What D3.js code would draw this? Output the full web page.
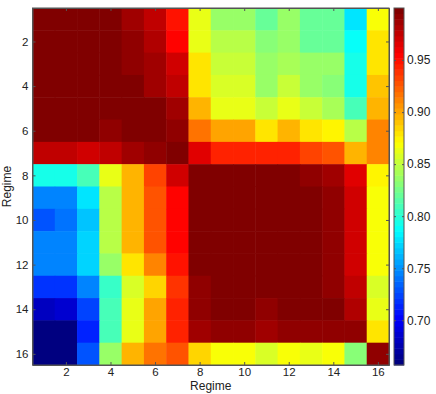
<!DOCTYPE html>
<html>
<head>
<meta charset="utf-8">
<script src="https://cdn.jsdelivr.net/npm/d3@7"></script>
<style>
  body { margin: 0; background: #fff; }
  svg text { font-family: "Liberation Sans", Arial, sans-serif; fill: #222; }
  .axis path, .axis line { stroke: #555; }
</style>
</head>
<body>
<svg width="436" height="394"></svg>
<script>
// Regime indices (rows/cols)
const regimes = d3.range(1, 17);
const tickRegimes = [2, 4, 6, 8, 10, 12, 14, 16];
const colorTicks = [0.7, 0.75, 0.8, 0.85, 0.9, 0.95];

// similarity matrix, row by row (row 1 at top)
const row1  = [1.000, 1.000, 1.000, 1.000, 0.989, 0.974, 0.951, 0.861, 0.834, 0.834, 0.818, 0.834, 0.818, 0.818, 0.780, 0.871];
const row2  = [1.000, 1.000, 1.000, 1.000, 0.994, 0.979, 0.957, 0.865, 0.845, 0.845, 0.829, 0.839, 0.823, 0.823, 0.786, 0.882];
const row3  = [1.000, 1.000, 1.000, 1.000, 0.994, 0.984, 0.969, 0.880, 0.850, 0.850, 0.834, 0.842, 0.834, 0.834, 0.791, 0.882];
const row4  = [1.000, 1.000, 1.000, 1.000, 1.000, 0.989, 0.974, 0.880, 0.856, 0.856, 0.834, 0.850, 0.839, 0.829, 0.796, 0.889];
const row5  = [1.000, 1.000, 1.000, 1.000, 1.000, 1.000, 0.984, 0.893, 0.866, 0.866, 0.850, 0.861, 0.850, 0.842, 0.812, 0.898];
const row6  = [1.000, 1.000, 1.000, 0.994, 1.000, 1.000, 0.994, 0.919, 0.900, 0.900, 0.882, 0.893, 0.882, 0.875, 0.845, 0.914];
const row7  = [0.974, 0.974, 0.969, 0.974, 0.984, 0.994, 1.000, 0.963, 0.946, 0.946, 0.944, 0.944, 0.931, 0.925, 0.898, 0.914];
const row8  = [0.796, 0.796, 0.812, 0.861, 0.898, 0.931, 0.969, 1.000, 1.000, 1.000, 1.000, 1.000, 0.994, 0.989, 0.963, 0.875];
const row9  = [0.748, 0.748, 0.780, 0.845, 0.893, 0.925, 0.957, 1.000, 1.000, 1.000, 1.000, 1.000, 1.000, 0.994, 0.969, 0.871];
const row10 = [0.732, 0.738, 0.768, 0.845, 0.893, 0.925, 0.957, 1.000, 1.000, 1.000, 1.000, 1.000, 1.000, 0.994, 0.969, 0.871];
const row11 = [0.745, 0.745, 0.774, 0.845, 0.893, 0.925, 0.957, 1.000, 1.000, 1.000, 1.000, 1.000, 1.000, 0.994, 0.969, 0.871];
const row12 = [0.745, 0.745, 0.774, 0.839, 0.882, 0.912, 0.951, 1.000, 1.000, 1.000, 1.000, 1.000, 1.000, 0.994, 0.969, 0.871];
const row13 = [0.721, 0.721, 0.745, 0.807, 0.856, 0.887, 0.936, 0.994, 1.000, 1.000, 1.000, 1.000, 1.000, 0.994, 0.974, 0.856];
const row14 = [0.683, 0.689, 0.726, 0.812, 0.866, 0.903, 0.946, 0.994, 1.000, 1.000, 0.994, 1.000, 1.000, 1.000, 0.979, 0.866];
const row15 = [0.657, 0.661, 0.711, 0.812, 0.866, 0.903, 0.944, 0.989, 0.994, 0.994, 0.989, 0.994, 0.994, 0.994, 0.994, 0.880];
const row16 = [0.659, 0.659, 0.732, 0.839, 0.893, 0.919, 0.925, 0.884, 0.871, 0.871, 0.856, 0.871, 0.866, 0.871, 0.829, 0.994];
const matrix = [row1, row2, row3, row4, row5, row6, row7, row8, row9, row10, row11, row12, row13, row14, row15, row16];

const svg = d3.select("svg");
const margin = { left: 32.5, top: 8, right: 389, bottom: 365 };

const x = d3.scaleBand().domain(regimes).range([margin.left, margin.right]);
const y = d3.scaleBand().domain(regimes).range([margin.top, margin.bottom]);

// MATLAB-style jet with 64 levels
function jet(t) {
  const c = v => Math.max(0, Math.min(1, v));
  const r = c(1.5 - Math.abs(4 * t - 3));
  const g = c(1.5 - Math.abs(4 * t - 2));
  const b = c(1.5 - Math.abs(4 * t - 1));
  return d3.rgb(r * 255, g * 255, b * 255).toString();
}
const cells = matrix.flatMap((row, i) => row.map((v, j) => ({ r: regimes[i], c: regimes[j], v })));
const ext = d3.extent(cells, d => d.v);
const tScale = d3.scaleLinear().domain(ext).range([0, 1]).clamp(true);
const color = v => jet(Math.min(63, Math.floor(tScale(v) * 64)) / 63);

// cells
svg.append("g").selectAll("rect")
  .data(cells)
  .join("rect")
  .attr("x", d => x(d.c))
  .attr("y", d => y(d.r))
  .attr("width", x.bandwidth() + 0.5)
  .attr("height", y.bandwidth() + 0.5)
  .attr("fill", d => color(d.v));

// axes (ticks point inward, mirrored on top/right)
const xc = d3.scaleLinear().domain([0.5, 16.5]).range([margin.left, margin.right]);
const yc = d3.scaleLinear().domain([0.5, 16.5]).range([margin.top, margin.bottom]);

svg.append("g").attr("class", "axis")
  .attr("transform", `translate(0,${margin.bottom})`)
  .call(d3.axisBottom(xc).tickValues(tickRegimes).tickSize(-3).tickPadding(3).tickSizeOuter(0));
svg.append("g").attr("class", "axis")
  .attr("transform", `translate(0,${margin.top})`)
  .call(d3.axisTop(xc).tickValues(tickRegimes).tickSize(-3).tickFormat("").tickSizeOuter(0));
svg.append("g").attr("class", "axis")
  .attr("transform", `translate(${margin.left},0)`)
  .call(d3.axisLeft(yc).tickValues(tickRegimes).tickSize(-3).tickPadding(4).tickSizeOuter(0));
svg.append("g").attr("class", "axis")
  .attr("transform", `translate(${margin.right},0)`)
  .call(d3.axisRight(yc).tickValues(tickRegimes).tickSize(-3).tickFormat("").tickSizeOuter(0));
svg.selectAll(".axis text").style("font-size", "11.5px");

svg.append("text")
  .attr("x", (margin.left + margin.right) / 2)
  .attr("y", 389.5)
  .attr("text-anchor", "middle")
  .style("font-size", "12px")
  .text("Regime");
svg.append("text")
  .attr("transform", `translate(10.5,${(margin.top + margin.bottom) / 2}) rotate(-90)`)
  .attr("text-anchor", "middle")
  .style("font-size", "12px")
  .text("Regime");

// colorbar
const cb = { x0: 394, x1: 404 };
const cbScale = d3.scaleLinear().domain(ext).range([margin.bottom, margin.top]);
const levels = d3.range(64);
svg.append("g").selectAll("rect")
  .data(levels)
  .join("rect")
  .attr("x", cb.x0)
  .attr("width", cb.x1 - cb.x0)
  .attr("y", i => cbScale(ext[0] + (i + 1) / 64 * (ext[1] - ext[0])))
  .attr("height", (margin.bottom - margin.top) / 64 + 0.5)
  .attr("fill", i => jet(i / 63));
svg.append("rect")
  .attr("x", cb.x0).attr("y", margin.top)
  .attr("width", cb.x1 - cb.x0).attr("height", margin.bottom - margin.top)
  .attr("fill", "none").attr("stroke", "#555");
svg.append("g").attr("class", "axis")
  .attr("transform", `translate(${cb.x1},0)`)
  .call(d3.axisRight(cbScale).tickValues(colorTicks).tickSize(-2).tickPadding(3).tickSizeOuter(0))
  .call(g => g.select(".domain").remove())
  .selectAll("text").style("font-size", "12px");
svg.append("g").attr("class", "axis")
  .attr("transform", `translate(${cb.x0},0)`)
  .call(d3.axisLeft(cbScale).tickValues(colorTicks).tickSize(-2).tickFormat("").tickSizeOuter(0))
  .call(g => g.select(".domain").remove());

// box around plot
svg.append("rect")
  .attr("x", margin.left).attr("y", margin.top)
  .attr("width", margin.right - margin.left).attr("height", margin.bottom - margin.top)
  .attr("fill", "none").attr("stroke", "#555");
</script>
</body>
</html>
